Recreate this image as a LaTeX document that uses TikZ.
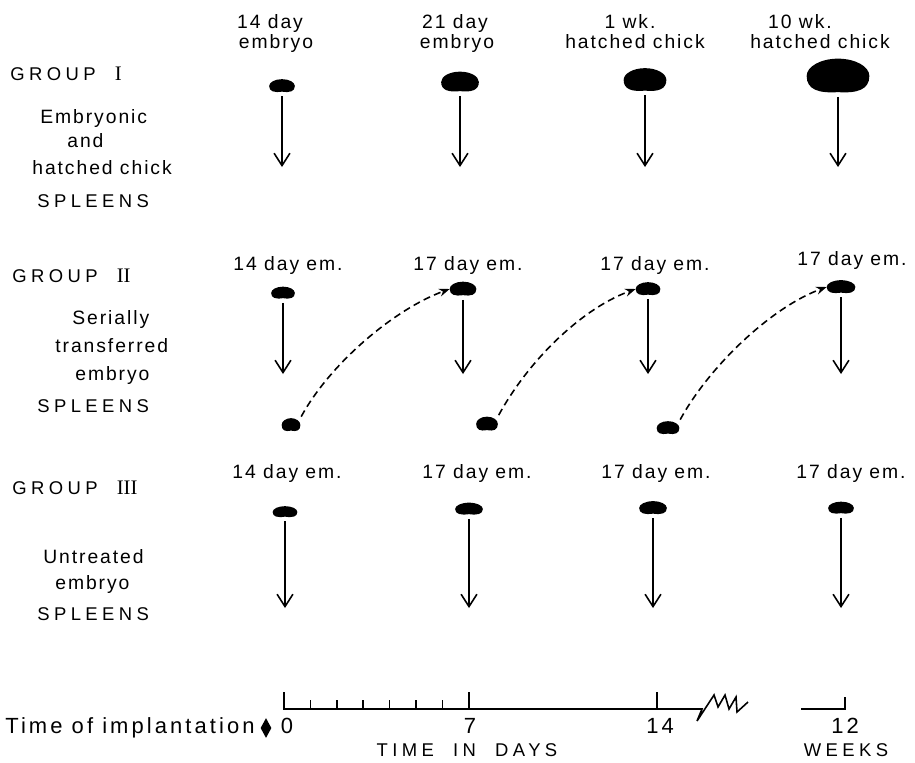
\documentclass[tikz,border=0pt]{standalone}
\usepackage{fontspec}
\setmainfont{Liberation Sans}
\newfontfamily\handfont{Liberation Sans}[LetterSpace=10,WordSpace=2.5]
\newfontfamily\tagfont{Liberation Sans}[LetterSpace=10]
\newfontfamily\capfont{Liberation Sans}[LetterSpace=24,WordSpace=2]
\newfontfamily\axisfont{Liberation Sans}[LetterSpace=14]
\newfontfamily\numfont{Liberation Serif}[Scale=1.12]
\usetikzlibrary{shapes.geometric,arrows.meta,calc}

% kidney outline inside the box of a spleen node: round dome, flat dented base
\newcommand\bean[1]{%
  \fill (#1.west)
    .. controls ($(#1.west)!0.55!(#1.north west)$) and ($(#1.north)!0.55!(#1.north west)$) .. (#1.north)
    .. controls ($(#1.north)!0.55!(#1.north east)$) and ($(#1.east)!0.55!(#1.north east)$) .. (#1.east)
    .. controls ($(#1.east)!0.8!(#1.south east)$) and ($(#1.south)!0.6!(#1.south east)$) .. ([yshift=0.7pt]#1.south)
    .. controls ($(#1.south)!0.6!(#1.south west)$) and ($(#1.west)!0.8!(#1.south west)$) .. (#1.west) -- cycle;}

\begin{document}
\begin{tikzpicture}[x=0.02cm,y=-0.02cm,
    spleen/.style 2 args={rectangle,inner sep=0pt,
      minimum width=#1*0.02cm,minimum height=#2*0.02cm},
    head/.style={font=\handfont\fontsize{11}{13}\selectfont,inner sep=0pt,anchor=base},
    tag/.style={font=\tagfont\fontsize{11}{13}\selectfont,inner sep=0pt,anchor=base},
    side/.style={font=\tagfont\fontsize{11}{13}\selectfont,inner sep=0pt,anchor=base west},
    caps/.style={font=\capfont\fontsize{10.5}{12}\selectfont,inner sep=0pt,anchor=base west},
    axislab/.style={font=\axisfont\fontsize{12.5}{14}\selectfont,inner sep=0pt,anchor=base},
    down/.style={-{Straight Barb[length=7pt,width=9pt]},line width=0.9pt,shorten <=2pt},
    transfer/.style={-{Stealth[length=6pt,width=4.5pt]},line width=0.9pt,
      dash pattern=on 4pt off 2.5pt,shorten <=1pt},
    axis/.style={line width=0.9pt}]
  \useasboundingbox (0,0) rectangle (915,762);

  % row titles on the left
  \node[caps] (g1)  at (10,80)  {GROUP\ {\numfont I}};
  \node[side] (g1a) at (40,123) {Embryonic};
  \node[side] (g1b) at (67,147) {and};
  \node[side] (g1c) at (32,174) {hatched chick};
  \node[caps] (g1d) at (37,207) {SPLEENS};

  \node[caps] (g2)  at (12,282) {GROUP\ {\numfont II}};
  \node[side] (g2a) at (72,324) {Serially};
  \node[side] (g2b) at (55,352) {transferred};
  \node[side] (g2c) at (75,380) {embryo};
  \node[caps] (g2d) at (37,412) {SPLEENS};

  \node[caps] (g3)  at (12,494) {GROUP\ {\numfont III}};
  \node[side] (g3a) at (43,563) {Untreated};
  \node[side] (g3b) at (55,589) {embryo};
  \node[caps] (g3d) at (37,620) {SPLEENS};

  % group I: donor age
  \node[head] (h1) at (270,28) {14 day};   \node[head] (k1) at (276,48) {embryo};
  \node[head] (h2) at (455,28) {21 day};   \node[head] (k2) at (457,48) {embryo};
  \node[head] (h3) at (630,28) {1 wk.};    \node[head] (k3) at (635,48) {hatched chick};
  \node[head] (h4) at (800,28) {10 wk.};   \node[head] (k4) at (820,48) {hatched chick};
  \foreach \n/\x/\y/\w/\h in {1/282/86/25/13,2/460/82/37/20,3/645/80/42/23,4/838/76/62/34}{
    \node[spleen={\w}{\h}] (a\n) at (\x,\y) {};
    \bean{a\n}
    \coordinate (a\n-end) at (\x,167);
    \draw[down] (a\n) -- (a\n-end);
  }

  % group II: serial transfer
  \node[tag] (m1) at (288,270) {14 day em.};
  \node[tag] (m2) at (468,270) {17 day em.};
  \node[tag] (m3) at (655,270) {17 day em.};
  \node[tag] (m4) at (852,265) {17 day em.};
  \foreach \n/\x/\y/\w/\h in {1/283/293/23/12,2/463/289/26/14,3/648/289/24/13,4/841/287/28/13}{
    \node[spleen={\w}{\h}] (b\n) at (\x,\y) {};
    \bean{b\n}
    \coordinate (b\n-end) at (\x,374);
    \draw[down] (b\n) -- (b\n-end);
  }
  \foreach \n/\x/\y/\w/\h in {1/291/425/18/13,2/487/424/21/14,3/668/428/22/13}{
    \node[spleen={\w}{\h}] (c\n) at (\x,\y) {};
    \bean{c\n}
  }
  \draw[transfer] (c1.north east) .. controls +(30,-55) and +(-55,20) .. (b2.west);
  \draw[transfer] (c2.north east) .. controls +(30,-55) and +(-55,20) .. (b3.west);
  \draw[transfer] (c3.north east) .. controls +(30,-55) and +(-55,20) .. (b4.west);

  % group III: untreated
  \node[tag] (u1) at (287,478) {14 day em.};
  \node[tag] (u2) at (477,478) {17 day em.};
  \node[tag] (u3) at (656,478) {17 day em.};
  \node[tag] (u4) at (851,478) {17 day em.};
  \foreach \n/\x/\y/\w/\h in {1/285/512/24/11,2/469/509/27/12,3/653/508/27/13,4/841/508/25/12}{
    \node[spleen={\w}{\h}] (d\n) at (\x,\y) {};
    \bean{d\n}
    \coordinate (d\n-end) at (\x,608);
    \draw[down] (d\n) -- (d\n-end);
  }

  % time scale
  \draw[axis] (284,692) -- (284,709) -- (702,709)
    -- (697,721) -- (714,695) -- (718,707) -- (725,695) -- (729,709)
    -- (736,697) -- (737,712) -- (748,702);
  \foreach \d in {1,...,6}
    \draw[axis] (284+26.4*\d,709) -- ++(0,-9);
  \draw[axis] (469,709) -- ++(0,-17);
  \draw[axis] (657,709) -- ++(0,-17);
  \draw[axis] (801,709) -- (845,709) -- ++(0,-12);

  \node[axislab,anchor=base west] (impl) at (5,733) {Time of implantation};
  \node[diamond,fill=black,inner sep=0pt,minimum width=11*0.02cm,
    minimum height=20*0.02cm] (mk) at (266,728) {};
  \node[axislab] (x0)  at (287,733) {0};
  \node[axislab] (x7)  at (470,733) {7};
  \node[axislab] (x14) at (660,733) {14};
  \node[axislab] (x12) at (845,733) {12};
  \node[caps,anchor=base] (days) at (467,756) {TIME\ IN\ DAYS};
  \node[caps,anchor=base] (wks)  at (846,756) {WEEKS};
\end{tikzpicture}
\end{document}
